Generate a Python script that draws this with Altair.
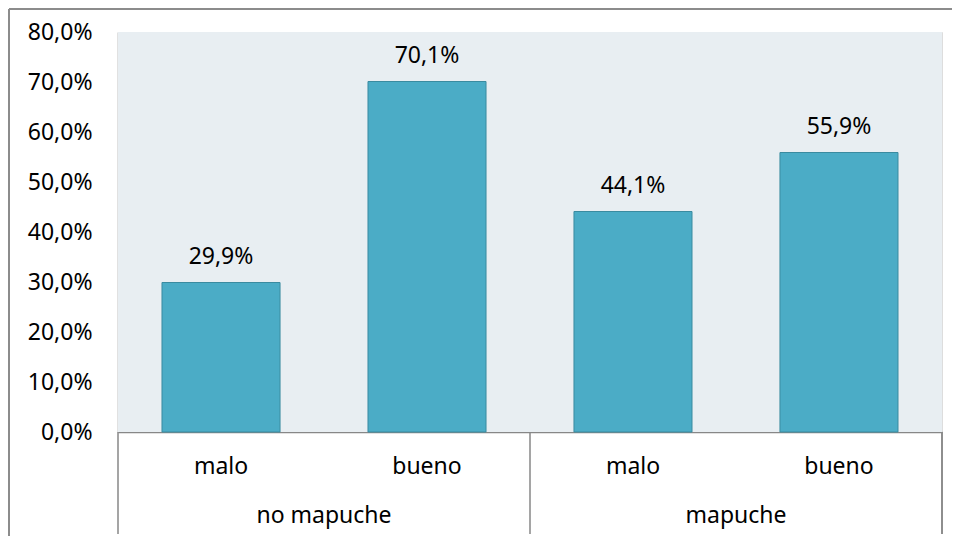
import altair as alt
import pandas as pd

groups = ["no mapuche", "no mapuche", "mapuche", "mapuche"]
categories = ["malo", "bueno", "malo", "bueno"]
values = [29.9, 70.1, 44.1, 55.9]
group_order = ["no mapuche", "mapuche"]
y_ticks = [0, 10, 20, 30, 40, 50, 60, 70, 80]

keys = [g + "|" + c for g, c in zip(groups, categories)]
df = pd.DataFrame({"group": groups, "cat": categories, "v": values, "key": keys})
gdf = pd.DataFrame({"group": group_order})

FONT = "Noto Sans"
FS = 23
AX = "#878787"

xband = alt.Scale(domain=keys, paddingInner=0.427, paddingOuter=0.2136)
gband = alt.Scale(domain=group_order, paddingInner=0, paddingOuter=0)
yscale = alt.Scale(domain=[0, 80], nice=False)

base = alt.Chart(df)

bg = alt.Chart(gdf).mark_rect(color="#E8EEF2").encode(
    x=alt.value(0), x2=alt.value(824), y=alt.value(0), y2=alt.value(400)
)

bars = base.mark_bar(color="#4BACC6", stroke="#3A8BA0", strokeWidth=1).encode(
    x=alt.X("key:N", scale=xband, sort=keys,
            axis=alt.Axis(labels=False, ticks=False, title=None, domainColor=AX, domainWidth=1.5)),
    y=alt.Y("v:Q", scale=yscale,
            axis=alt.Axis(values=y_ticks, title=None, ticks=False, grid=False,
                          domainColor=AX, domainWidth=1.5, labelPadding=26,
                          labelFont=FONT, labelFontSize=FS, labelColor="#000000",
                          labelExpr="replace(format(datum.value, '.1f'), '.', ',') + '%'")),
)

bar_labels = base.mark_text(font=FONT, fontSize=FS, color="#000000", baseline="alphabetic", dy=-19).transform_calculate(
    lab="replace(format(datum.v, '.1f'), '.', ',') + '%'"
).encode(
    x=alt.X("key:N", scale=xband, sort=keys, axis=None),
    y=alt.Y("v:Q", scale=yscale),
    text="lab:N",
)

cat_labels = base.mark_text(font=FONT, fontSize=FS, color="#000000", baseline="alphabetic").encode(
    x=alt.X("key:N", scale=xband, sort=keys, axis=None),
    y=alt.value(442),
    text="cat:N",
)

group_labels = alt.Chart(gdf).mark_text(font=FONT, fontSize=FS, color="#000000", baseline="alphabetic").encode(
    x=alt.X("group:N", scale=gband, sort=group_order, axis=None),
    y=alt.value(491),
    text="group:N",
)

seps = alt.Chart(gdf).mark_rule(color=AX, strokeWidth=1.5).encode(
    x=alt.X("group:N", scale=gband, sort=group_order, axis=None, bandPosition=0),
    y=alt.value(400),
    y2=alt.value(502),
)

sep_right = alt.Chart(gdf).mark_rule(color=AX, strokeWidth=1.5).encode(
    x=alt.value(824), y=alt.value(400), y2=alt.value(502)
)

frame_top = alt.Chart(gdf).mark_rule(color="#8C8C8C", strokeWidth=2).encode(
    x=alt.value(-109), x2=alt.value(840), y=alt.value(-23)
)
frame_left = alt.Chart(gdf).mark_rule(color="#8C8C8C", strokeWidth=2).encode(
    x=alt.value(-109), y=alt.value(-23), y2=alt.value(504)
)

chart = alt.layer(
    bg, bars, bar_labels, cat_labels, group_labels, seps, sep_right, frame_top, frame_left
).resolve_scale(x="independent").properties(
    width=824, height=400,
    autosize=alt.AutoSizeParams(type="none"),
    padding={"left": 110, "top": 24, "right": 10, "bottom": 104},
).configure_view(stroke=None).configure(background="#FFFFFF")

chart.save("out.html", embed_options={"renderer": "svg", "actions": False})
